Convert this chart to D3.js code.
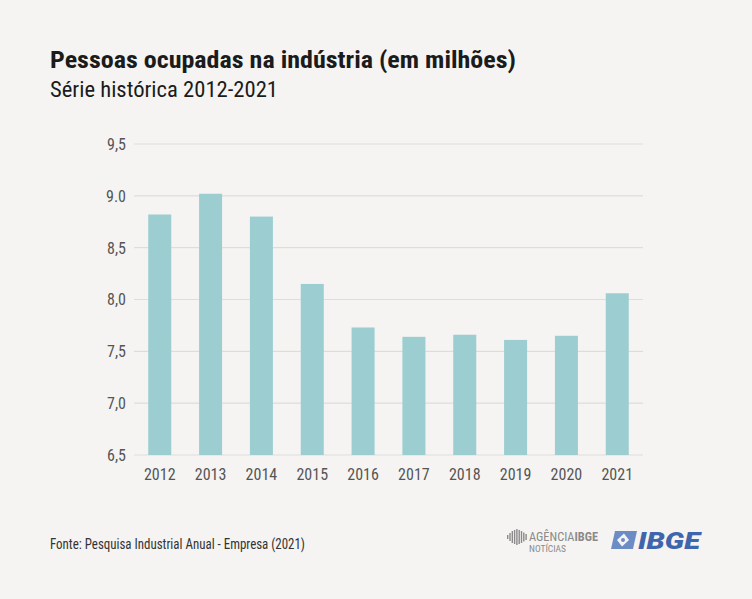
<!DOCTYPE html>
<html>
<head>
<meta charset="utf-8">
<script src="https://cdn.jsdelivr.net/npm/d3@7"></script>
<style>
  body { margin: 0; background: #f5f4f2; }
  svg { display: block; }
  .cond { font-family: "Roboto Condensed", "Liberation Sans Narrow", "DejaVu Sans Condensed", Roboto, sans-serif; }
</style>
</head>
<body>
<div id="chart"></div>
<script>
const width = 752;
const height = 599;
const margin = { top: 144, right: 109, bottom: 144, left: 134 };

const years = ["2012", "2013", "2014", "2015", "2016", "2017", "2018", "2019", "2020", "2021"];
const values = [8.82, 9.02, 8.80, 8.15, 7.73, 7.64, 7.66, 7.61, 7.65, 8.06];
const yTicks = [6.5, 7.0, 7.5, 8.0, 8.5, 9.0, 9.5];
const yTickLabels = ["6,5", "7,0", "7,5", "8,0", "8,5", "9.0", "9,5"];

const data = years.map((y, i) => ({ year: y, value: values[i] }));

const svg = d3.select("#chart")
  .append("svg")
  .attr("width", width)
  .attr("height", height);

svg.append("rect")
  .attr("width", width)
  .attr("height", height)
  .attr("fill", "#f5f4f2");

const xScale = d3.scaleBand()
  .domain(years)
  .range([margin.left, width - margin.right])
  .paddingInner(0.547)
  .paddingOuter(0.28);

const yScale = d3.scaleLinear()
  .domain([6.5, 9.5])
  .range([height - margin.bottom, margin.top]);

// gridlines
svg.append("g")
  .selectAll("line")
  .data(yTicks)
  .enter()
  .append("line")
  .attr("x1", margin.left)
  .attr("x2", width - margin.right)
  .attr("y1", d => yScale(d))
  .attr("y2", d => yScale(d))
  .attr("stroke", "#dedddb")
  .attr("stroke-width", 1.2);

// y axis labels
const yAxis = svg.append("g")
  .attr("class", "cond")
  .attr("transform", `translate(${margin.left - 5},0)`)
  .call(d3.axisLeft(yScale).tickValues(yTicks).tickSize(0).tickFormat((d, i) => yTickLabels[i]));
yAxis.select(".domain").remove();
yAxis.selectAll("text")
  .attr("font-size", 16)
  .attr("fill", "#555")
  .attr("dy", "0.34em");

// bars
svg.append("g")
  .selectAll("rect")
  .data(data)
  .enter()
  .append("rect")
  .attr("x", d => xScale(d.year))
  .attr("y", d => yScale(d.value))
  .attr("width", xScale.bandwidth())
  .attr("height", d => yScale(6.5) - yScale(d.value))
  .attr("fill", "#9ccdd0");

// x axis labels
const xAxis = svg.append("g")
  .attr("class", "cond")
  .attr("transform", `translate(0,${height - margin.bottom})`)
  .call(d3.axisBottom(xScale).tickSize(0));
xAxis.select(".domain").remove();
xAxis.selectAll("text")
  .attr("font-size", 16)
  .attr("fill", "#555")
  .attr("dy", "1.4em");

// titles
svg.append("text")
  .attr("class", "cond")
  .attr("x", 50)
  .attr("y", 68)
  .attr("font-size", 24)
  .attr("font-weight", "bold")
  .attr("fill", "#1b1b1b")
  .attr("textLength", 466)
  .attr("lengthAdjust", "spacingAndGlyphs")
  .text("Pessoas ocupadas na indústria (em milhões)");

svg.append("text")
  .attr("class", "cond")
  .attr("x", 50)
  .attr("y", 97)
  .attr("font-size", 22)
  .attr("fill", "#1b1b1b")
  .attr("textLength", 228)
  .attr("lengthAdjust", "spacingAndGlyphs")
  .text("Série histórica 2012-2021");

svg.append("text")
  .attr("class", "cond")
  .attr("x", 50)
  .attr("y", 549)
  .attr("font-size", 14)
  .attr("fill", "#333")
  .attr("textLength", 255)
  .attr("lengthAdjust", "spacingAndGlyphs")
  .text("Fonte: Pesquisa Industrial Anual - Empresa (2021)");

// Agência IBGE Notícias logo
const ag = svg.append("g").attr("fill", "#8a8a8a");
const barHeights = [4, 8, 12, 14, 16, 14, 12, 9, 6];
ag.selectAll("rect")
  .data(barHeights)
  .enter()
  .append("rect")
  .attr("x", (d, i) => 507 + i * 2.3)
  .attr("y", d => 537 - d / 2)
  .attr("width", 1.4)
  .attr("height", d => d);
const agText = ag.append("text")
  .attr("class", "cond")
  .attr("x", 529)
  .attr("y", 541)
  .attr("font-size", 12)
  .attr("textLength", 69)
  .attr("lengthAdjust", "spacingAndGlyphs");
agText.append("tspan").text("AGÊNCIA");
agText.append("tspan").attr("font-weight", "bold").text("IBGE");
ag.append("text")
  .attr("class", "cond")
  .attr("x", 529)
  .attr("y", 552)
  .attr("font-size", 9)
  .attr("textLength", 37)
  .attr("lengthAdjust", "spacingAndGlyphs")
  .text("NOTÍCIAS");

// IBGE logo
const ib = svg.append("g");
ib.append("path")
  .attr("d", "M615,531 L637,531 L633,549 L611,549 Z")
  .attr("fill", "#6c8cc6");
ib.append("path")
  .attr("d", "M624,533.5 L629,540 L622,546.5 L617,540 Z")
  .attr("fill", "#f5f4f2");
ib.append("circle")
  .attr("cx", 623)
  .attr("cy", 540)
  .attr("r", 2)
  .attr("fill", "#6c8cc6");
ib.append("text")
  .attr("x", 638)
  .attr("y", 549)
  .attr("font-family", "Roboto, sans-serif")
  .attr("font-size", 24)
  .attr("font-weight", "900")
  .attr("font-style", "italic")
  .attr("fill", "#3f66ad")
  .attr("textLength", 62)
  .attr("lengthAdjust", "spacingAndGlyphs")
  .text("IBGE");
</script>
</body>
</html>
